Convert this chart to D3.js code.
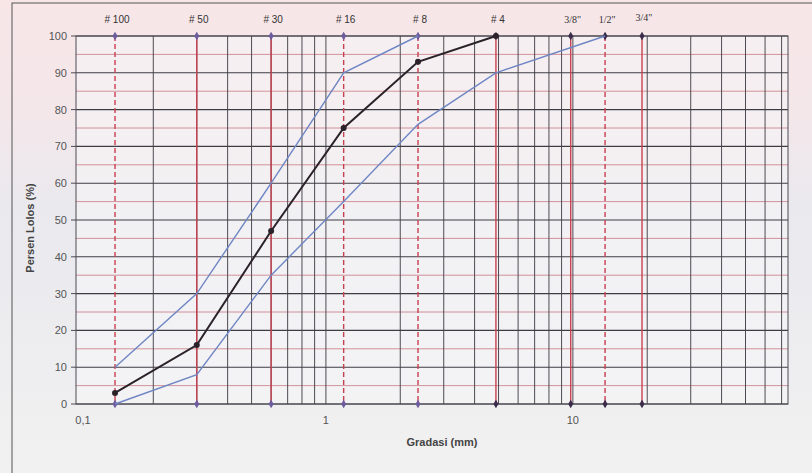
<!DOCTYPE html>
<html>
<head>
<meta charset="utf-8">
<script src="https://cdn.jsdelivr.net/npm/d3@7"></script>
<style>
  body { margin: 0; background: #efeef1; }
  svg { display: block; }
</style>
</head>
<body>
<div id="chart"></div>
<script>
// sieve names and opening sizes (mm), as placed on the chart
const sieveNames = ["# 100", "# 50", "# 30", "# 16", "# 8", "# 4", "3/8\"", "1/2\"", "3/4\""];
const sieveSizes = [0.14, 0.3, 0.6, 1.18, 2.36, 4.88, 9.8, 13.5, 19.05];
const sieveDashed = [true, false, false, true, true, false, false, true, false];

// gradation curves (percent passing)
const upperSizes = [0.14, 0.3, 0.6, 1.18, 2.36];
const upperValues = [10, 30, 60, 90, 100];
const lowerSizes = [0.14, 0.3, 0.6, 1.18, 2.36, 4.88, 13.5];
const lowerValues = [0, 8, 35, 55, 76, 90, 100];
const actualSizes = [0.14, 0.3, 0.6, 1.18, 2.36, 4.88];
const actualValues = [3, 16, 47, 75, 93, 100];

const yTicks = [0, 10, 20, 30, 40, 50, 60, 70, 80, 90, 100];
const xTickValues = [0.1, 1, 10];
const xTickLabels = ["0,1", "1", "10"];
const xGrid = [0.2, 0.3, 0.4, 0.5, 0.6, 0.7, 0.8, 0.9, 1, 2, 3, 4, 5, 6, 7, 8, 9, 10, 20, 30, 40, 50, 60, 70];

const W = 812, H = 473;
const plot = { left: 76, right: 788, top: 36, bottom: 404 };

const svg = d3.select("#chart").append("svg")
  .attr("width", W)
  .attr("height", H);

// scanned paper tones
const grad = svg.append("defs").append("linearGradient")
  .attr("id", "bg").attr("x1", 0).attr("y1", 0).attr("x2", 0).attr("y2", 1);
grad.append("stop").attr("offset", "0%").attr("stop-color", "#f8e6e7");
grad.append("stop").attr("offset", "25%").attr("stop-color", "#f3e7ea");
grad.append("stop").attr("offset", "45%").attr("stop-color", "#e9e9ee");
grad.append("stop").attr("offset", "100%").attr("stop-color", "#f1f1f1");

svg.append("rect").attr("width", W).attr("height", H).attr("fill", "url(#bg)");

// outer frame of the chart
svg.append("rect")
  .attr("x", 12).attr("y", 3)
  .attr("width", W + 20).attr("height", H + 20)
  .attr("fill", "none")
  .attr("stroke", "#555")
  .attr("stroke-width", 1);

const x = d3.scaleLog().domain([0.0973, 74.3]).range([plot.left, plot.right]);
const y = d3.scaleLinear().domain([0, 100]).range([plot.bottom, plot.top]);

// plot area
svg.append("rect")
  .attr("x", plot.left).attr("y", plot.top)
  .attr("width", plot.right - plot.left).attr("height", plot.bottom - plot.top)
  .attr("fill", "#f6f5f7").attr("fill-opacity", 0.6);

// minor horizontal grid (every 5)
svg.append("g").selectAll("line")
  .data(d3.range(5, 100, 10))
  .join("line")
  .attr("x1", plot.left).attr("x2", plot.right)
  .attr("y1", d => y(d)).attr("y2", d => y(d))
  .attr("stroke", "#c77a84").attr("stroke-width", 0.8);

// vertical log grid
svg.append("g").selectAll("line")
  .data(xGrid)
  .join("line")
  .attr("x1", d => x(d)).attr("x2", d => x(d))
  .attr("y1", plot.top).attr("y2", plot.bottom)
  .attr("stroke", "#4d4b52").attr("stroke-width", 1);

// major horizontal grid (every 10)
svg.append("g").selectAll("line")
  .data(yTicks)
  .join("line")
  .attr("x1", plot.left).attr("x2", plot.right)
  .attr("y1", d => y(d)).attr("y2", d => y(d))
  .attr("stroke", "#3f3d44").attr("stroke-width", 1.1);

// frame of plot
svg.append("rect")
  .attr("x", plot.left).attr("y", plot.top)
  .attr("width", plot.right - plot.left).attr("height", plot.bottom - plot.top)
  .attr("fill", "none").attr("stroke", "#4d4b52").attr("stroke-width", 1);

// sieve lines
svg.append("g").selectAll("line")
  .data(sieveSizes)
  .join("line")
  .attr("x1", d => x(d)).attr("x2", d => x(d))
  .attr("y1", plot.top).attr("y2", plot.bottom)
  .attr("stroke", "#c8404f")
  .attr("stroke-width", 1.4)
  .attr("stroke-dasharray", (d, i) => sieveDashed[i] ? "5,3" : null);

const diamond = d3.symbol().type(d3.symbolDiamond).size(22);

// sieve end markers
svg.append("g").selectAll("path")
  .data(sieveSizes.flatMap((s, i) => [[s, 0, i], [s, 100, i]]))
  .join("path")
  .attr("d", diamond)
  .attr("transform", d => `translate(${x(d[0])},${y(d[1])})`)
  .attr("fill", d => d[2] >= 5 ? "#3a2c4a" : "#6d5c9e");

// sieve labels
svg.append("g").selectAll("text")
  .data(sieveNames)
  .join("text")
  .attr("x", (d, i) => x(sieveSizes[i]) + 2)
  .attr("y", (d, i) => i === 8 ? 21 : 23)
  .attr("text-anchor", "middle")
  .attr("font-family", (d, i) => i >= 6 ? "Liberation Serif" : "Liberation Sans")
  .attr("font-size", 10)
  .attr("fill", "#333")
  .text(d => d);

const line = d3.line().x(d => x(d[0])).y(d => y(d[1]));

const curves = [
  { sizes: upperSizes, values: upperValues, color: "#6f86c4", width: 1.4, dot: false },
  { sizes: lowerSizes, values: lowerValues, color: "#6f86c4", width: 1.4, dot: false },
  { sizes: actualSizes, values: actualValues, color: "#2a2228", width: 2, dot: true }
];

curves.forEach(c => {
  const pts = c.sizes.map((s, i) => [s, c.values[i]]);
  svg.append("path")
    .datum(pts)
    .attr("d", line)
    .attr("fill", "none")
    .attr("stroke", c.color)
    .attr("stroke-width", c.width);
  if (c.dot) {
    svg.append("g").selectAll("circle")
      .data(pts)
      .join("circle")
      .attr("cx", d => x(d[0])).attr("cy", d => y(d[1]))
      .attr("r", 3)
      .attr("fill", "#2a2228");
  }
});

// y axis ticks and labels
svg.append("g").selectAll("line")
  .data(yTicks)
  .join("line")
  .attr("x1", plot.left - 5).attr("x2", plot.left)
  .attr("y1", d => y(d)).attr("y2", d => y(d))
  .attr("stroke", "#4d4b52");

svg.append("g").selectAll("text")
  .data(yTicks)
  .join("text")
  .attr("x", plot.left - 9)
  .attr("y", d => y(d) + 4)
  .attr("text-anchor", "end")
  .attr("font-family", "Liberation Sans")
  .attr("font-size", 11)
  .attr("fill", "#555")
  .text(d => d);

// x labels
svg.append("g").selectAll("text")
  .data(xTickValues)
  .join("text")
  .attr("x", (d, i) => x(d) + (i === 0 ? 4 : 0))
  .attr("y", 424)
  .attr("text-anchor", "middle")
  .attr("font-family", "Liberation Sans")
  .attr("font-size", 11)
  .attr("fill", "#555")
  .text((d, i) => xTickLabels[i]);

svg.append("text")
  .attr("x", 442).attr("y", 446)
  .attr("text-anchor", "middle")
  .attr("font-family", "Liberation Sans")
  .attr("font-weight", "bold")
  .attr("font-size", 11)
  .attr("fill", "#444")
  .text("Gradasi (mm)");

svg.append("text")
  .attr("transform", "translate(34,228) rotate(-90)")
  .attr("text-anchor", "middle")
  .attr("font-family", "Liberation Sans")
  .attr("font-weight", "bold")
  .attr("font-size", 11)
  .attr("fill", "#444")
  .text("Persen Lolos (%)");
</script>
</body>
</html>
